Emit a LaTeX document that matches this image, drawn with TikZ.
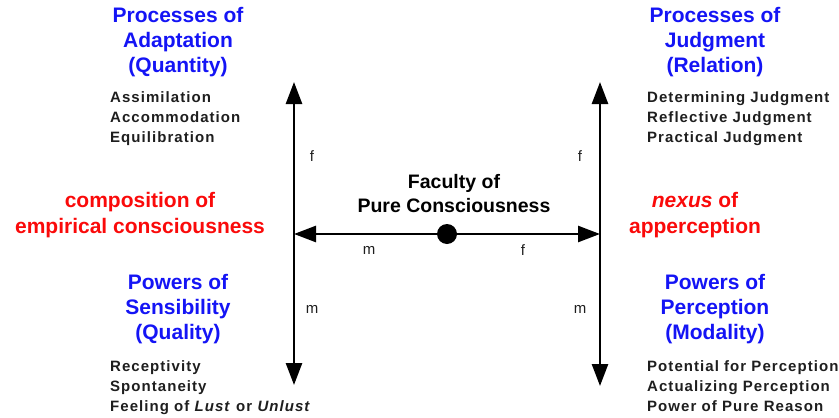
\documentclass[tikz,border=0pt]{standalone}
\usepackage{fontspec}
\setmainfont{Liberation Sans}
\newfontfamily\itemfont{Liberation Sans}[LetterSpace=7]
\usetikzlibrary{arrows.meta}
\definecolor{headblue}{RGB}{20,20,245}
\definecolor{nexred}{RGB}{250,10,10}
\definecolor{itemgray}{RGB}{30,30,30}
\begin{document}
\begin{tikzpicture}[x=1pt,y=1pt,
  heading/.style={font=\fontsize{21}{25}\selectfont\bfseries,text=headblue,align=center,anchor=north,inner sep=0pt},
  items/.style={font=\fontsize{15}{20}\selectfont\itemfont\bfseries,text=itemgray,align=left,anchor=north west,inner sep=0pt},
  redlabel/.style={font=\fontsize{21}{26}\selectfont\bfseries,text=nexred,align=center,anchor=north,inner sep=0pt},
  maplabel/.style={font=\fontsize{15}{17}\selectfont,text=itemgray,inner sep=0pt},
  arr/.style={line width=2.6pt,-{Triangle[width=16pt,length=22pt]}}]
\useasboundingbox (0,0) rectangle (839,-418);

% Axes of the diagram.
\coordinate (ltop) at (294,-82);
\coordinate (lbot) at (294,-385);
\coordinate (ljoin) at (294,-234);
\coordinate (rtop) at (600,-82);
\coordinate (rbot) at (600,-386);
\coordinate (rjoin) at (600,-234);
\coordinate (core) at (447,-234);

\draw[arr] (ljoin) -- (ltop);
\draw[arr] (ljoin) -- (lbot);
\draw[arr] (rjoin) -- (rtop);
\draw[arr] (rjoin) -- (rbot);
\draw[arr] (core) -- (ljoin);
\draw[arr] (core) -- (rjoin);
\fill (core) circle (10);

% Map labels.
\node[maplabel] (lf) at (312,-156) {f};
\node[maplabel] (lm) at (312,-309) {m};
\node[maplabel] (rf) at (580,-156) {f};
\node[maplabel] (rm) at (580,-309) {m};
\node[maplabel] (hm) at (369,-250) {m};
\node[maplabel] (hf) at (523,-250) {f};

% Centre.
\node[font=\fontsize{19.5}{24.5}\selectfont\bfseries,align=center,anchor=north,inner sep=0pt]
  (faculty) at (454,-174) {Faculty of\\Pure Consciousness};

% Quadrant headings.
\node[heading] (adapt) at (178,-7) {Processes of\\Adaptation\\(Quantity)};
\node[heading] (judg) at (715,-7) {Processes of\\Judgment\\(Relation)};
\node[heading] (sens) at (178,-274) {Powers of\\Sensibility\\(Quality)};
\node[heading] (perc) at (715,-274) {Powers of\\Perception\\(Modality)};

% Quadrant contents.
\node[items] (adaptitems) at (110,-91) {Assimilation\\Accommodation\\Equilibration};
\node[items] (judgitems) at (647,-91) {Determining Judgment\\Reflective Judgment\\Practical Judgment};
\node[items] (sensitems) at (110,-360) {Receptivity\\Spontaneity\\Feeling of \textit{Lust} or \textit{Unlust}};
\node[items] (percitems) at (647,-360) {Potential for Perception\\Actualizing Perception\\Power of Pure Reason};

% Side labels.
\node[redlabel] (composition) at (140,-192) {composition of\\empirical consciousness};
\node[redlabel] (nexus) at (695,-192) {\textit{nexus} of\\apperception};
\end{tikzpicture}
\end{document}
